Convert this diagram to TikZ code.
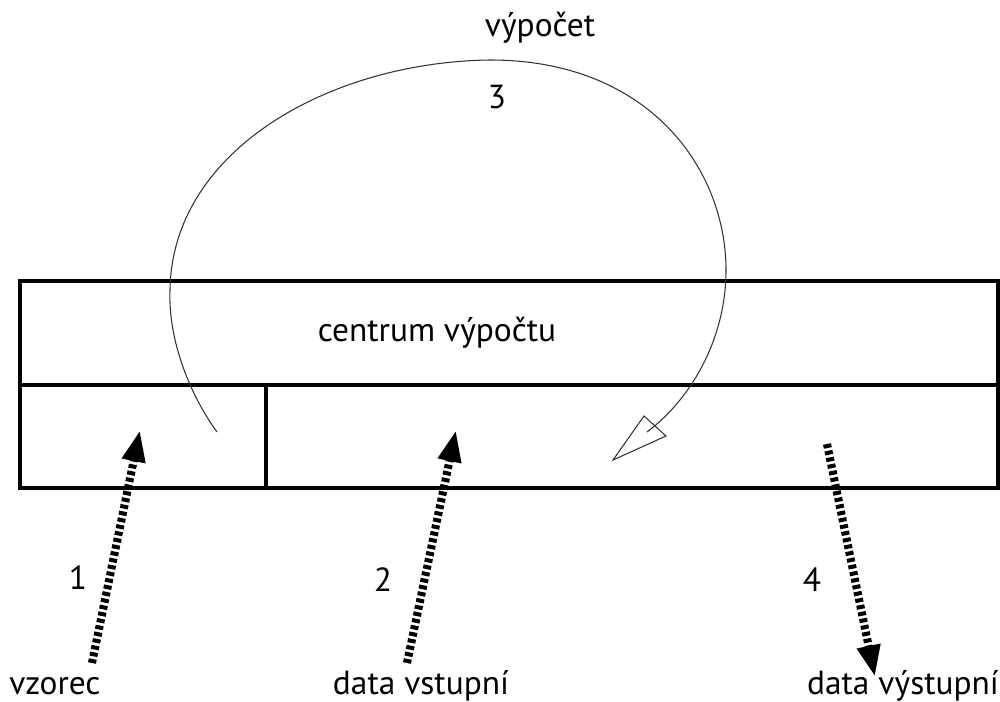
\documentclass[tikz,border=0pt]{standalone}
\usepackage{fontspec}
\setmainfont{PT Sans}
\usetikzlibrary{arrows.meta}
\begin{document}
\begin{tikzpicture}[x=0.02cm,y=-0.02cm,
  box/.style={line width=2.1pt},
  lbl/.style={font=\fontsize{19}{22}\selectfont, inner sep=0pt},
  flow/.style={line width=4.6pt, dash pattern=on 2.3pt off 1.6pt, -{Triangle[length=18pt,width=12.5pt]}},
  loopline/.style={line width=0.6pt, black!80},
]
\useasboundingbox (0,0) rectangle (1000,702);
% frame
\draw[box] (20,281) rectangle (998,488);
\draw[box] (20,385) -- (998,385);
\draw[box] (266,385) -- (266,488);
\node[lbl] (centre) at (437,333) {centrum výpočtu};
% labels
\node[lbl, anchor=base] (vzorec) at (55,694) {vzorec};
\node[lbl, anchor=base] (din) at (421,694) {data vstupní};
\node[lbl, anchor=base] (dout) at (903,694) {data výstupní};
\node[lbl] (n1) at (78,578) {1};
\node[lbl] (n2) at (383,580) {2};
\node[lbl] (n4) at (812,580) {4};
\node[lbl] (n3) at (497,97) {3};
\node[lbl] (calc) at (540,28) {výpočet};
% flow arrows
\coordinate (t1) at (92,663); \coordinate (h1) at (140,430);
\coordinate (t2) at (407,663); \coordinate (h2) at (456,430);
\coordinate (t4) at (827,444); \coordinate (h4) at (875,677);
\draw[flow] (t1) -- (h1);
\draw[flow] (t2) -- (h2);
\draw[flow] (t4) -- (h4);
% loop
\coordinate (ls) at (217,432);
\coordinate (ll) at (170,290);
\coordinate (lt) at (490,60);
\coordinate (lr) at (726,270);
\coordinate (le) at (647,432);
\draw[loopline] (ls) .. controls (190,395) and (168,340) .. (ll)
  .. controls (172,150) and (330,62) .. (lt)
  .. controls (650,60) and (726,170) .. (lr)
  .. controls (726,340) and (690,400) .. (le);
\coordinate (tip) at (613,460);
\draw[loopline, line join=miter] (tip) -- (644,416) -- (666,436) -- cycle;
\end{tikzpicture}
\end{document}
